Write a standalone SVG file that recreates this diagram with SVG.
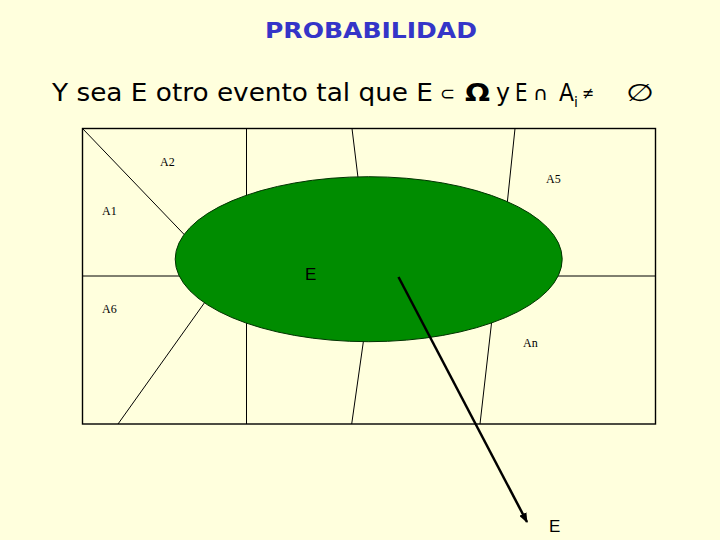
<svg xmlns="http://www.w3.org/2000/svg" width="720" height="540" viewBox="0 0 720 540">
<style>
.bg{fill:#FFFFDD}
.frame{fill:#FFFFDD;stroke:#000;stroke-width:1.4}
.part{stroke:#000;stroke-width:1;fill:none}
.lbl{font-family:"Liberation Serif",serif;font-size:12px;fill:#000}
.sub{font-family:"DejaVu Sans","Liberation Sans",sans-serif;font-size:24px;fill:#000}
.sym{font-family:"DejaVu Sans","Liberation Sans",sans-serif;fill:#000}
.el{font-family:"Liberation Sans",Arial,sans-serif;font-size:17px;fill:#000}
</style>
<defs>
<marker id="ah" markerWidth="10" markerHeight="8" refX="9" refY="4" orient="auto" markerUnits="userSpaceOnUse">
<path d="M0,0 L10,4 L0,8 Z" fill="#000"/>
</marker>
</defs>
<rect class="bg" x="0" y="0" width="720" height="540"/>
<g id="title">
<text x="265" y="38" textLength="212" lengthAdjust="spacingAndGlyphs" style="font-family:'DejaVu Sans',sans-serif;font-size:21px;font-weight:bold;fill:#3535C8">PROBABILIDAD</text>
</g>
<g id="subtitle">
<text class="sub" x="52" y="101" textLength="381" lengthAdjust="spacingAndGlyphs">Y sea E otro evento tal que E</text>
<text class="sym" x="440" y="100" style="font-size:19px" textLength="15" lengthAdjust="spacingAndGlyphs">⊂</text>
<text class="sym" x="465" y="101" style="font-size:24px;font-weight:bold" textLength="25" lengthAdjust="spacingAndGlyphs">Ω</text>
<text class="sub" x="496" y="101" textLength="14" lengthAdjust="spacingAndGlyphs">y</text>
<text class="sub" x="515" y="101" textLength="12.5" lengthAdjust="spacingAndGlyphs">E</text>
<text class="sym" x="533" y="100" style="font-size:19px" textLength="15" lengthAdjust="spacingAndGlyphs">∩</text>
<text class="sub" x="559" y="101" textLength="15" lengthAdjust="spacingAndGlyphs">A</text>
<text class="sym" x="574" y="107" style="font-size:14px">i</text>
<text class="sym" x="582" y="99" style="font-size:17px" textLength="12" lengthAdjust="spacingAndGlyphs">≠</text>
<text class="sym" x="626" y="101" style="font-size:24px" textLength="28" lengthAdjust="spacingAndGlyphs">∅</text>
</g>
<g id="sample-space">
<rect class="frame" x="82.5" y="128.5" width="573" height="295.5"/>
</g>
<g id="partitions">
<line class="part" x1="82.5" y1="128.5" x2="200" y2="251"/>
<line class="part" x1="246.5" y1="128.5" x2="246.5" y2="215"/>
<line class="part" x1="352" y1="128.5" x2="359.5" y2="190"/>
<line class="part" x1="515" y1="128.5" x2="506" y2="215"/>
<line class="part" x1="82.5" y1="276" x2="200" y2="276"/>
<line class="part" x1="540" y1="276" x2="655.5" y2="276"/>
<line class="part" x1="118" y1="424" x2="215" y2="288"/>
<line class="part" x1="246.5" y1="424" x2="246.5" y2="310"/>
<line class="part" x1="351.7" y1="424" x2="365" y2="330"/>
<line class="part" x1="480" y1="424" x2="493" y2="310"/>
</g>
<g id="A2"><text class="lbl" x="160" y="166">A2</text></g>
<g id="A1"><text class="lbl" x="102" y="215">A1</text></g>
<g id="A5"><text class="lbl" x="546" y="183">A5</text></g>
<g id="A6"><text class="lbl" x="102" y="313">A6</text></g>
<g id="An"><text class="lbl" x="523" y="347">An</text></g>
<g id="E-set">
<ellipse cx="368.7" cy="259.2" rx="193.5" ry="82.5" fill="#008C00" stroke="#003300" stroke-width="1"/>
<text class="el" x="305" y="280">E</text>
</g>
<g id="connectors">
<line x1="398.5" y1="277" x2="527" y2="522" stroke="#000" stroke-width="2.5" marker-end="url(#ah)"/>
</g>
<g id="E-label">
<text class="el" x="549" y="532">E</text>
</g>
</svg>
